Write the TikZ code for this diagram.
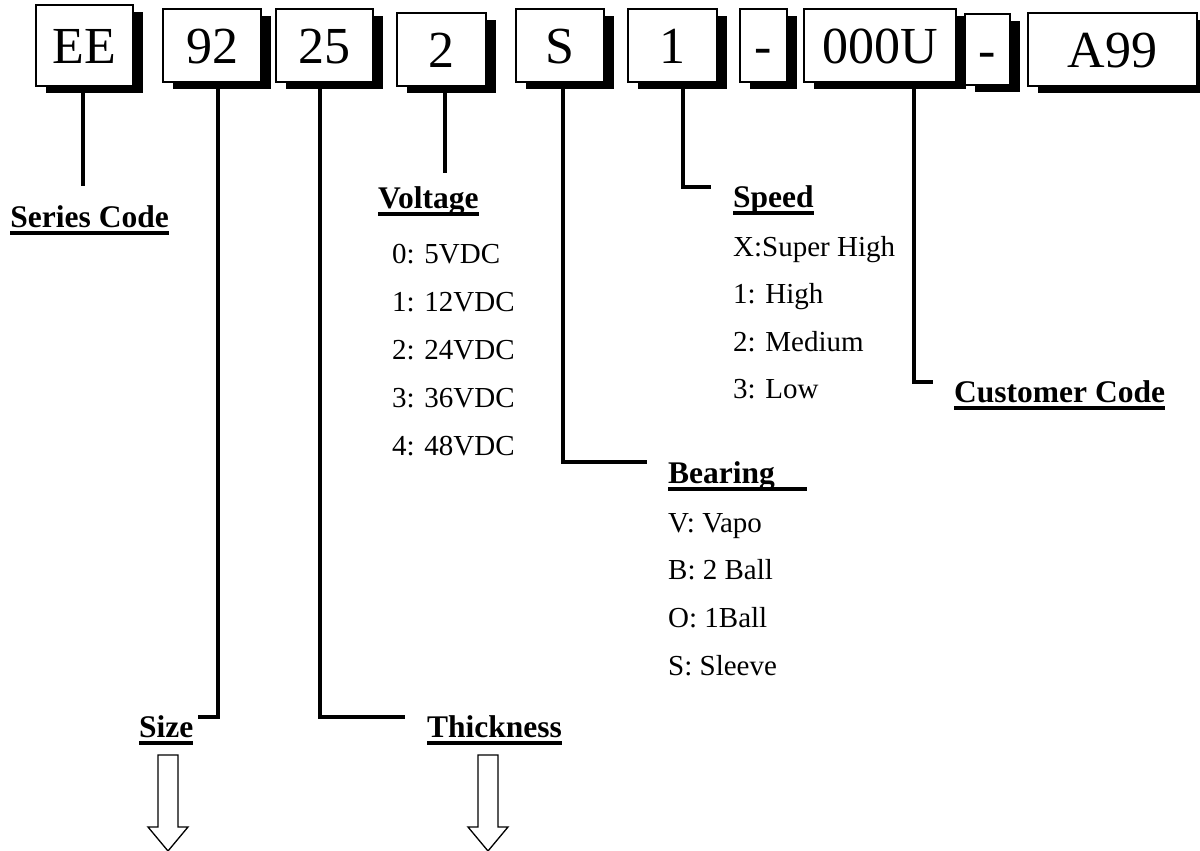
\documentclass[tikz,border=0pt]{standalone}
\usepackage{fontspec}
\setmainfont{Liberation Serif}
\usetikzlibrary{shadows}

% text with a heavy underline, optional extra length
\newcommand{\ulbox}[2][0pt]{\setbox0\hbox{#2\hspace{#1}}\rlap{\rule[-7.5pt]{\wd0}{3.5pt}}\box0}

\begin{document}
\begin{tikzpicture}[x=1pt, y=-1pt,
    codebox/.style={draw, line width=1.2pt, fill=white, inner sep=0pt, minimum height=73pt,
        font=\fontsize{52}{60}\selectfont, text height=36pt, text depth=0pt,
        drop shadow={shadow xshift=10pt, shadow yshift=-7pt, fill=black, opacity=1}},
    leader/.style={line width=4.5pt, line join=miter},
    heading/.style={anchor=base west, inner sep=0pt, font=\fontsize{31.5}{36}\selectfont\bfseries},
    item/.style={anchor=base west, inner sep=0pt, font=\fontsize{29}{34}\selectfont},
    hollow/.style={draw, line width=1.3pt, fill=white}]
        \useasboundingbox (0,0) rectangle (1200,851);

        % The part number boxes
        \node[codebox, minimum width=97pt, minimum height=81pt] (bEE) at (84.5,45.5) {EE};
        \node[codebox, minimum width=98pt] (b92) at (212,45.5) {92};
        \node[codebox, minimum width=97pt] (b25) at (324.5,45.5) {25};
        \node[codebox, minimum width=89pt] (b2) at (441.5,49.5) {2};
        \node[codebox, minimum width=88pt] (bS) at (560,45.5) {S};
        \node[codebox, minimum width=89pt] (b1) at (672.5,45.5) {1};
        \node[codebox, minimum width=47pt] (bDashA) at (763.5,45.5) {-};
        \node[codebox, minimum width=152pt] (b000U) at (880,45.5) {000U};
        \node[codebox, minimum width=45pt, minimum height=71pt] (bDashB) at (987.5,49.5) {-};
        \node[codebox, minimum width=169pt] (bA99) at (1112.5,49.5) {A99};

        % Headings
        \node[heading, anchor=base east] (series) at (169,227) {\ulbox{Series Code}};
        \node[heading] (volt) at (378,208) {\ulbox{Voltage}};
        \node[heading] (speed) at (733,207) {\ulbox{Speed}};
        \node[heading] (cust) at (954,402) {\ulbox{Customer Code}};
        \node[heading] (bear) at (668,483) {\ulbox[32pt]{Bearing}};
        \node[heading] (size) at (139,737) {\ulbox{Size}};
        \node[heading] (thick) at (427,737) {\ulbox{Thickness}};

        % Voltage options
        \node[item] (v0) at (392,263) {0: 5VDC};
        \node[item] (v1) at (392,311) {1: 12VDC};
        \node[item] (v2) at (392,359) {2: 24VDC};
        \node[item] (v3) at (392,407) {3: 36VDC};
        \node[item] (v4) at (392,455) {4: 48VDC};

        % Speed options
        \node[item] (s0) at (733,256) {X:Super High};
        \node[item] (s1) at (733,303) {1: High};
        \node[item] (s2) at (733,351) {2: Medium};
        \node[item] (s3) at (733,398) {3: Low};

        % Bearing options
        \node[item] (r0) at (668,532) {V: Vapo};
        \node[item] (r1) at (668,579) {B: 2 Ball};
        \node[item] (r2) at (668,627) {O: 1Ball};
        \node[item] (r3) at (668,675) {S: Sleeve};

        % Leader lines
        \coordinate (eSeries) at (83,186);
        \coordinate (eVolt) at (445,173);
        \coordinate (kSize) at (198,717);
        \coordinate (kThick) at (405,717);
        \coordinate (kBear) at (647,462);
        \coordinate (kSpeed) at (711,187);
        \coordinate (kCust) at (933,382);
        \draw[leader] (bEE.south -| eSeries) -- (eSeries);
        \draw[leader] (b2.south -| eVolt) -- (eVolt);
        \draw[leader] ([xshift=6pt]b92.south) |- (kSize);
        \draw[leader] ([xshift=-4.5pt]b25.south) |- (kThick);
        \draw[leader] ([xshift=3pt]bS.south) |- (kBear);
        \draw[leader] ([xshift=10.5pt]b1.south) |- (kSpeed);
        \draw[leader] ([xshift=34pt]b000U.south) |- (kCust);

        % Hollow arrows under size and thickness
        \draw[hollow] (158,755) -- (178,755) -- (178,827) -- (188,827) -- (168,851) -- (148,827) -- (158,827) -- cycle;
        \draw[hollow] (478,755) -- (498,755) -- (498,827) -- (508,827) -- (488,851) -- (468,827) -- (478,827) -- cycle;
    \end{tikzpicture}
\end{document}
